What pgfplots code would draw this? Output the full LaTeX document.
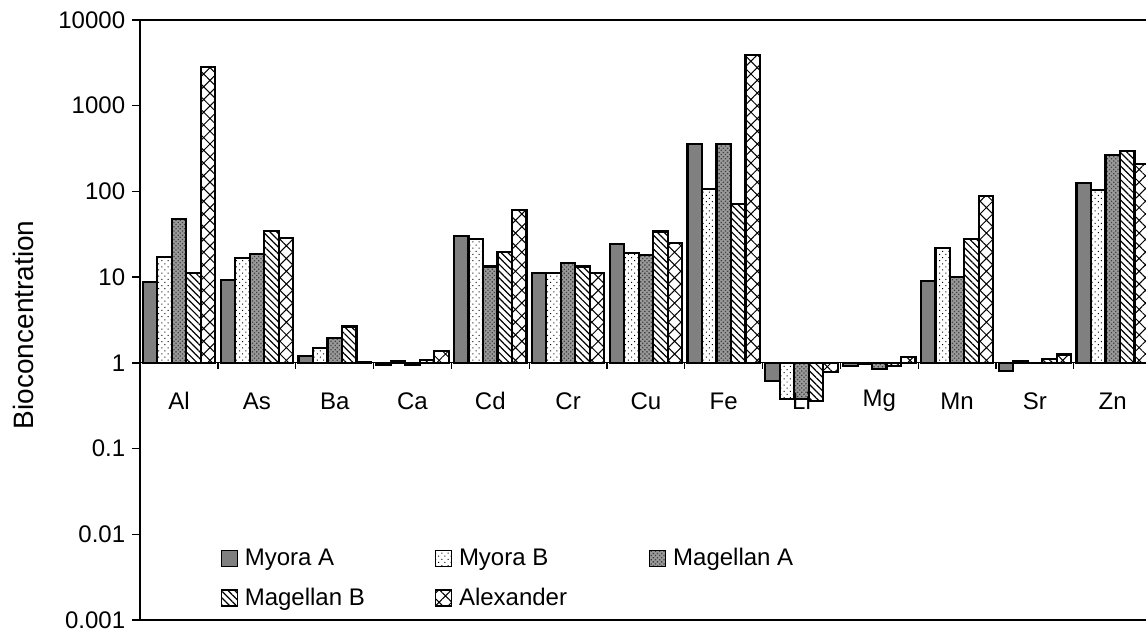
\documentclass[border=0pt]{standalone}
\usepackage{fontspec}
\setmainfont{Liberation Sans}
\usepackage{pgfplots}
\usepackage{pgfplotstable}
\pgfplotsset{compat=1.18}
\usetikzlibrary{patterns,patterns.meta}

% bioconcentration factors, one row per element (x = category index)
\pgfplotstableread{
x  el  myoraA  myoraB  magA  magB  alex
0  Al  8.8     17.2    47.8  11.2  2830
1  As  9.3     16.7    18.7  34.5  28.7
2  Ba  1.2     1.5     1.97  2.65  1.02
3  Ca  0.95    1.04    0.94  1.07  1.39
4  Cd  30.3    28.1    13.3  19.6  61
5  Cr  11.1    11.1    14.7  13.3  11.1
6  Cu  24.2    19.0    18.0  34.0  24.9
7  Fe  358     107     355   71.5  3900
8  Li  0.61    0.38    0.38  0.36  0.79
9  Mg  0.91    0.97    0.85  0.92  1.18
10 Mn  9.0     21.7    10.1  27.7  89
11 Sr  0.81    1.04    0.99  1.12  1.25
12 Zn  125     104     266   297   209
}\bcf

\begin{document}
\begin{tikzpicture}
\begin{axis}[
  name=ax,
  scale only axis,
  width=505.7pt, height=300pt,
  ymode=log, ymin=0.001, ymax=10000,
  xmin=-0.5, xmax=12.5,
  ybar=0pt, bar width=0.186,
  xtick=\empty,
  ytick={0.001,0.01,0.1,1,10,100,1000,10000},
  yticklabels={0.001,0.01,0.1,1,10,100,1000,10000},
  yminorticks=false,
  ytick pos=left,
  tick align=outside,
  major tick length=4pt,
  axis line style={line width=0.9pt},
  tick style={line width=0.7pt, black},
  tick label style={font=\fontsize{12}{14}\selectfont},
  /pgf/number format/assume math mode=true,
  ylabel={Bioconcentration},
  ylabel style={font=\fontsize{14}{16}\selectfont, at={(axis description cs:-0.1157,0.492)}, anchor=center},
  legend columns=3,
  legend cell align=left,
  legend style={draw=none, fill=none, at={(0.0791,0.12)}, anchor=north west,
    font=\fontsize{12}{14}\selectfont, inner sep=0pt,
    nodes={inner sep=0pt}, row sep=9.5pt,
    /tikz/every odd column/.append style={column sep=3.5pt}},
  legend image code/.code={\draw[#1, line width=0.6pt] (0pt,-4pt) rectangle (8pt,4pt);},
]
% baseline at 1 with category separators
\draw[line width=0.6pt] (axis cs:-0.5,1) -- (axis cs:12.5,1);
\pgfplotsinvokeforeach{0.5,1.5,2.5,3.5,4.5,5.5,6.5,7.5,8.5,9.5,10.5,11.5}{
  \draw[line width=0.6pt] (axis cs:#1,1) -- ++(0pt,-3pt);
}
\pgfplotsinvokeforeach{0,1,2,3,4,5,6,7,8,9,10,11,12}{
  \coordinate (c#1) at (axis cs:#1,0.36);
}

\addplot[draw=black, line width=1.1pt, fill=gray] table[x=x, y=myoraA] {\bcf};
\addlegendentry{\makebox[95pt][l]{Myora A}}
\addplot[draw=black, line width=1.1pt, pattern={Dots[angle=45, distance=2.2pt, radius=0.35pt]}, pattern color=black] table[x=x, y=myoraB] {\bcf};
\addlegendentry{\makebox[95pt][l]{Myora B}}
\addplot[draw=black, line width=1.1pt, fill=gray!80,
  postaction={pattern={Dots[angle=45, distance=1.5pt, radius=0.45pt]}, pattern color=black!75}] table[x=x, y=magA] {\bcf};
\addlegendentry{\makebox[95pt][l]{Magellan A}}
\addplot[draw=black, line width=1.1pt, pattern={Lines[angle=-45, distance=2.4pt, line width=0.6pt]}, pattern color=black] table[x=x, y=magB] {\bcf};
\addlegendentry{\makebox[95pt][l]{Magellan B}}
\addplot[draw=black, line width=1.1pt, pattern={Hatch[angle=45, distance=4.5pt, line width=0.5pt]}, pattern color=black] table[x=x, y=alex] {\bcf};
\addlegendentry{\makebox[95pt][l]{Alexander}}
\end{axis}
% element names below the baseline, in front of the bars
\foreach \i/\n in {0/Al,1/As,2/Ba,3/Ca,4/Cd,5/Cr,6/Cu,7/Fe,8/Li,9/Mg,10/Mn,11/Sr,12/Zn}
  \node[font=\fontsize{12}{14}\selectfont] at (c\i) {\n};
\pgfresetboundingbox
\path[use as bounding box] ([xshift=-70.1pt,yshift=-7pt]ax.south west) rectangle ([xshift=-2.8pt,yshift=10pt]ax.north east);
\end{tikzpicture}
\end{document}
